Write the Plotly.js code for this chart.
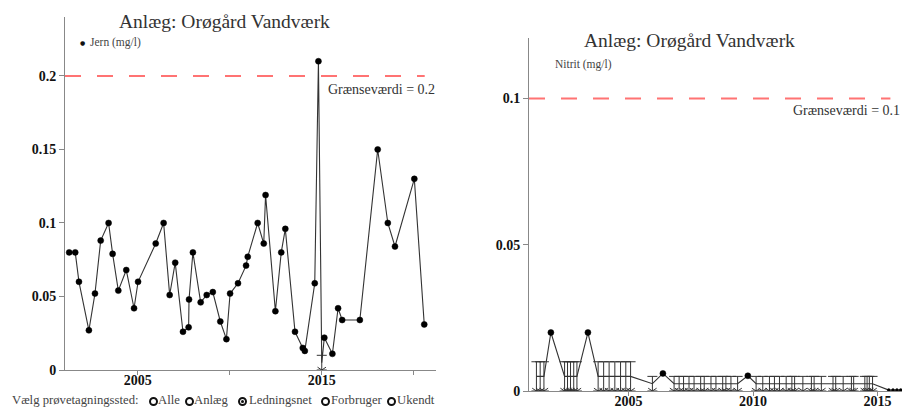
<!DOCTYPE html>
<html>
<head>
<meta charset="utf-8">
<script src="https://cdn.plot.ly/plotly-3.0.1.min.js"></script>
<style>
html,body{margin:0;padding:0;background:#fff;}
#chart{position:absolute;left:0;top:0;width:904px;height:408px;}
.rtxt{position:absolute;top:393px;font-family:"Liberation Serif",serif;font-size:12.7px;line-height:15px;color:#444;white-space:nowrap;}
.ring{position:absolute;top:397px;width:5px;height:5px;border:2px solid #111;border-radius:50%;background:#fff;}
.ring.sel::after{content:"";position:absolute;left:1px;top:1px;width:3px;height:3px;border-radius:50%;background:#111;}
</style>
</head>
<body>
<div id="chart"></div>
<div class="rtxt" style="left:12px">Vælg prøvetagningssted:</div>
<div class="ring" style="left:149px"></div><div class="rtxt" style="left:158px">Alle</div>
<div class="ring" style="left:185px"></div><div class="rtxt" style="left:194px">Anlæg</div>
<div class="ring sel" style="left:238px"></div><div class="rtxt" style="left:249px">Ledningsnet</div>
<div class="ring" style="left:321px"></div><div class="rtxt" style="left:331px">Forbruger</div>
<div class="ring" style="left:387px"></div><div class="rtxt" style="left:397px">Ukendt</div>
<script>
// ---------- Jern (mg/l) ----------
const jernDates = ['2001-04-12','2001-08-10','2001-10-23','2002-05-08','2002-09-06','2002-12-28','2003-06-03','2003-08-22','2003-12-13','2004-05-19',
  '2004-10-20','2005-01-08','2005-12-24','2006-05-30','2006-09-27','2007-01-15','2007-06-18','2007-10-08','2007-10-16','2008-01-01',
  '2008-06-03','2008-10-01','2009-01-30','2009-06-28','2009-10-27','2010-01-08','2010-06-14','2010-11-21','2010-12-24','2011-07-09',
  '2011-11-07','2011-12-13','2012-06-25','2012-10-19','2013-01-08','2013-07-19','2013-12-20','2014-01-30','2014-08-15','2014-10-27',
  '2015-01-01','2015-02-21','2015-07-31','2015-11-21','2016-02-10','2017-01-26','2018-01-15','2018-08-04','2018-12-24','2020-01-12',
  '2020-07-27'];
const jernValues = [0.080,0.080,0.060,0.027,0.052,0.088,0.100,0.079,0.054,0.068,
  0.042,0.060,0.086,0.100,0.051,0.073,0.026,0.029,0.048,0.080,
  0.046,0.051,0.053,0.033,0.021,0.052,0.059,0.071,0.077,0.100,
  0.086,0.119,0.040,0.080,0.096,0.026,0.015,0.013,0.059,0.210,
  0.010,0.022,0.011,0.042,0.034,0.034,0.150,0.100,0.084,0.130,
  0.031];
// 1 = below detection limit (value = detection limit)
const jernBelowDL = [0,0,0,0,0,0,0,0,0,0, 0,0,0,0,0,0,0,0,0,0, 0,0,0,0,0,0,0,0,0,0, 0,0,0,0,0,0,0,0,0,0, 1,0,0,0,0,0,0,0,0,0, 0];
const jernLimit = 0.2;

// ---------- Nitrit (mg/l) ----------
const nitritDates = ['2001-04-20','2001-06-14','2001-08-08','2001-11-18','2002-06-07','2002-07-20','2002-09-02','2002-10-19','2002-12-05','2003-05-15',
  '2003-10-12','2004-01-01','2004-03-21','2004-06-13','2004-09-05','2004-11-21','2005-01-30','2005-12-16','2006-05-19','2006-10-30',
  '2007-01-12','2007-03-18','2007-06-06','2007-08-19','2007-11-24','2008-01-15','2008-04-23','2008-07-05','2008-10-12','2008-11-28',
  '2009-02-10','2009-05-19','2009-10-16','2010-02-14','2010-05-23','2010-08-29','2010-11-10','2011-01-23','2011-05-01','2011-07-24',
  '2011-09-02','2012-01-01','2012-05-05','2012-06-14','2012-09-28','2013-03-18','2013-04-27','2013-08-14','2013-12-13','2014-01-15',
  '2014-06-28','2014-07-31','2014-09-02','2014-10-19','2015-06-14','2015-08-15','2015-10-12','2015-12-06','2016-01-19'];
const nitritValues = [0.01,0.01,0.01,0.02,0.01,0.01,0.01,0.01,0.01,0.02,
  0.01,0.01,0.01,0.01,0.01,0.01,0.01,0.005,0.006,0.005,
  0.005,0.005,0.005,0.005,0.005,0.005,0.005,0.005,0.005,0.005,
  0.005,0.005,0.0052,0.005,0.005,0.005,0.005,0.005,0.005,0.005,
  0.005,0.005,0.005,0.005,0.005,0.005,0.005,0.005,0.005,0.005,
  0.005,0.005,0.005,0.005,0.0003,0.0003,0.0003,0.0003,0.0003];
const nitritBelowDL = [1,1,1,0,1,1,1,1,1,0, 1,1,1,1,1,1,1,1,0,1, 1,1,1,1,1,1,1,1,1,1, 1,1,0,1,1,1,1,1,1,1, 1,1,1,1,1,1,1,1,1,1, 1,1,1,1,0,0,0,0,0];
const nitritLimit = 0.1;

const title = 'Anlæg: Orøgård Vandværk';
const LINE = '#333', DOT = '#000', SERIF = 'Liberation Serif, Times New Roman, serif';

function tracesFor(dates, vals, bdl, xa, ya, yTop) {
  const yPlot = vals.map((v, i) => bdl[i] ? v / 2 : v);
  const det = {x: [], y: []}, low = {x: [], y: [], e: []};
  dates.forEach((d, i) => {
    if (bdl[i]) { low.x.push(d); low.y.push(vals[i] / 2); low.e.push(vals[i] / 2); }
    else { det.x.push(d); det.y.push(vals[i]); }
  });
  // dots lying on the axis are drawn smaller (as in the reference)
  const detSize = det.y.map(v => v < yTop * 0.01 ? 3 : 6);
  return [
    {x: dates, y: yPlot, xaxis: xa, yaxis: ya, mode: 'lines', line: {color: LINE, width: 1.1}, hoverinfo: 'skip'},
    {x: low.x, y: low.y, xaxis: xa, yaxis: ya, mode: 'markers', marker: {size: 2, color: 'rgba(0,0,0,0)'},
     error_y: {type: 'data', symmetric: true, array: low.e, color: LINE, thickness: 1, width: 5}},
    {x: low.x, y: low.x.map(() => 0), xaxis: xa, yaxis: ya, mode: 'markers',
     marker: {symbol: 'y-down-open', size: 7, color: LINE, line: {color: LINE, width: 1}}},
    {x: det.x, y: det.y, xaxis: xa, yaxis: ya, mode: 'markers',
     marker: {size: detSize, color: DOT, opacity: 1, line: {color: DOT, width: 0.5}}}
  ];
}

const yTop1 = 0.2401, yTop2 = 0.1207;
const data = [].concat(
  tracesFor(jernDates, jernValues, jernBelowDL, 'x', 'y', yTop1),
  tracesFor(nitritDates, nitritValues, nitritBelowDL, 'x2', 'y2', yTop2)
);

const W = 904, H = 408;
const tickFont = {family: SERIF, size: 14, color: '#111', weight: 'bold'};
const xCommon = {type: 'date', showgrid: false, zeroline: false, showline: true, linecolor: '#888', linewidth: 1,
  ticks: 'outside', ticklen: 4, tickcolor: '#888', tickfont: tickFont, ticklabelstandoff: -7};
const yCommon = {showgrid: false, zeroline: false, showline: true, linecolor: '#888', linewidth: 1,
  ticks: 'outside', ticklen: 5, tickcolor: '#888', tickfont: tickFont};

const xRange1 = ['2001-01-19', '2021-03-17'];
const xRange2 = ['2001-01-01', '2015-12-25'];

const layout = {
  width: W, height: H, margin: {l: 0, r: 0, t: 0, b: 0}, showlegend: false,
  paper_bgcolor: '#fff', plot_bgcolor: '#fff', font: {family: SERIF, color: '#222'},
  xaxis: Object.assign({}, xCommon, {domain: [65 / W, 436 / W], anchor: 'y', range: xRange1,
    tickvals: ['2005-01-01', '2010-01-01', '2015-01-01', '2020-01-01'], ticktext: ['2005', '', '2015', '']}),
  yaxis: Object.assign({}, yCommon, {domain: [(H - 370) / H, (H - 17) / H], anchor: 'x', range: [0, yTop1],
    tickvals: [0, 0.05, 0.1, 0.15, 0.2], ticktext: ['0', '0.05', '0.1', '0.15', '0.2']}),
  xaxis2: Object.assign({}, xCommon, {domain: [529 / W, 902 / W], anchor: 'y2', range: xRange2,
    tickvals: ['2005-01-01', '2010-01-01', '2015-01-01'], ticktext: ['2005', '2010', '2015']}),
  yaxis2: Object.assign({}, yCommon, {domain: [(H - 391) / H, (H - 38) / H], anchor: 'x2', range: [0, yTop2],
    tickvals: [0, 0.05, 0.1], ticktext: ['0', '0.05', '0.1']}),
  shapes: [
    {type: 'line', xref: 'x', yref: 'y', x0: xRange1[0], x1: '2020-08-05', y0: jernLimit, y1: jernLimit,
     line: {color: '#ff7373', width: 2, dash: '16px,16px'}},
    {type: 'line', xref: 'x2', yref: 'y2', x0: xRange2[0], x1: '2015-07-08', y0: nitritLimit, y1: nitritLimit,
     line: {color: '#ff7373', width: 2, dash: '16px,16px'}}
  ],
  annotations: [
    {text: title, xref: 'paper', yref: 'paper', x: 224.5 / W, y: (H - 21) / H, xanchor: 'center', yanchor: 'middle',
     showarrow: false, font: {family: SERIF, size: 19.5, color: '#333'}},
    {text: title, xref: 'paper', yref: 'paper', x: 689.5 / W, y: (H - 41) / H, xanchor: 'center', yanchor: 'middle',
     showarrow: false, font: {family: SERIF, size: 19.5, color: '#333'}},
    {text: '●', xref: 'paper', yref: 'paper', x: 82 / W, y: (H - 43) / H, xanchor: 'center', yanchor: 'middle',
     showarrow: false, font: {family: 'DejaVu Sans', size: 6, color: '#111'}},
    {text: 'Jern (mg/l)', xref: 'paper', yref: 'paper', x: 88 / W, y: (H - 43) / H, xanchor: 'left', yanchor: 'middle',
     showarrow: false, font: {family: SERIF, size: 11.5, color: '#444'}},
    {text: 'Nitrit (mg/l)', xref: 'paper', yref: 'paper', x: 553 / W, y: (H - 64) / H, xanchor: 'left', yanchor: 'middle',
     showarrow: false, font: {family: SERIF, size: 11.5, color: '#444'}},
    {text: 'Grænseværdi = ' + jernLimit, xref: 'paper', yref: 'paper', x: 437 / W, y: (H - 89) / H, xanchor: 'right', yanchor: 'middle',
     showarrow: false, font: {family: SERIF, size: 14, color: '#333'}},
    {text: 'Grænseværdi = ' + nitritLimit, xref: 'paper', yref: 'paper', x: 902 / W, y: (H - 110) / H, xanchor: 'right', yanchor: 'middle',
     showarrow: false, font: {family: SERIF, size: 14, color: '#333'}}
  ]
};

Plotly.newPlot('chart', data, layout, {displayModeBar: false, staticPlot: true});
</script>
</body>
</html>
